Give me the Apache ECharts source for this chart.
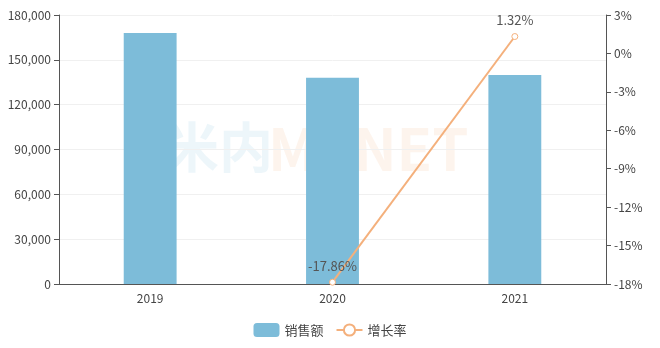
<!DOCTYPE html>
<html><head><meta charset="utf-8">
<script src="https://cdn.jsdelivr.net/npm/echarts@6/dist/echarts.min.js"></script>
<style>html,body{margin:0;padding:0;background:#fff}#c{width:660px;height:348px}</style>
</head><body><div id="c"></div>
<script>
var categories = ['2019', '2020', '2021'];
var sales = [168000, 138000, 139800];
var growth = [null, -17.86, 1.32];
var salesName = '销售额';
var growthName = '增长率';

var chart = echarts.init(document.getElementById('c'));
var font = '"Noto Sans CJK SC", "Noto Sans", sans-serif';
chart.setOption({
  animation: false,
  textStyle: { fontFamily: font },
  graphic: [
    { type: 'text', left: 165, top: 120, style: { text: '米内', font: 'bold 54px ' + font, fill: 'rgba(125,188,217,0.14)' } },
    { type: 'text', left: 268, top: 120, style: { text: 'MENET', font: 'bold 58px ' + font, fill: 'rgba(244,177,131,0.14)' } }
  ],
  grid: { left: 59, right: 54, top: 15, bottom: 64 },
  legend: {
    bottom: 6, itemGap: 12, itemWidth: 26, itemHeight: 14,
    textStyle: { color: '#444', fontSize: 13, fontFamily: font },
    data: [{ name: salesName, icon: 'roundRect' }, { name: growthName }]
  },
  xAxis: {
    type: 'category', data: categories,
    axisLine: { lineStyle: { color: '#555' } },
    axisTick: { alignWithLabel: false, lineStyle: { color: '#555' } },
    axisLabel: { color: '#444', fontSize: 12, margin: 8 }
  },
  yAxis: [
    {
      type: 'value', min: 0, max: 180000, interval: 30000,
      axisLine: { show: true, lineStyle: { color: '#555' } },
      axisTick: { show: true, lineStyle: { color: '#555' } },
      splitLine: { lineStyle: { color: '#f0f0f0' } },
      axisLabel: { color: '#444', fontSize: 12, formatter: function (v) { return v.toLocaleString('en-US'); } }
    },
    {
      type: 'value', min: -18, max: 3, interval: 3, position: 'right',
      axisLine: { show: true, lineStyle: { color: '#555' } },
      axisTick: { show: true, lineStyle: { color: '#555' } },
      splitLine: { show: false },
      axisLabel: { color: '#444', fontSize: 12, formatter: '{value}%' }
    }
  ],
  series: [
    {
      name: salesName, type: 'bar', data: sales, barWidth: '29%',
      itemStyle: { color: '#7dbcd9' }
    },
    {
      name: growthName, type: 'line', yAxisIndex: 1, data: growth,
      symbol: 'circle', symbolSize: 6, showSymbol: true,
      lineStyle: { color: '#f4b07c', width: 2 },
      itemStyle: { color: '#fff', borderColor: '#f4b07c', borderWidth: 1 },
      label: { show: true, position: 'top', distance: 6, color: '#555', fontSize: 13, formatter: function (p) { return p.value + '%'; } }
    }
  ]
});
</script></body></html>
